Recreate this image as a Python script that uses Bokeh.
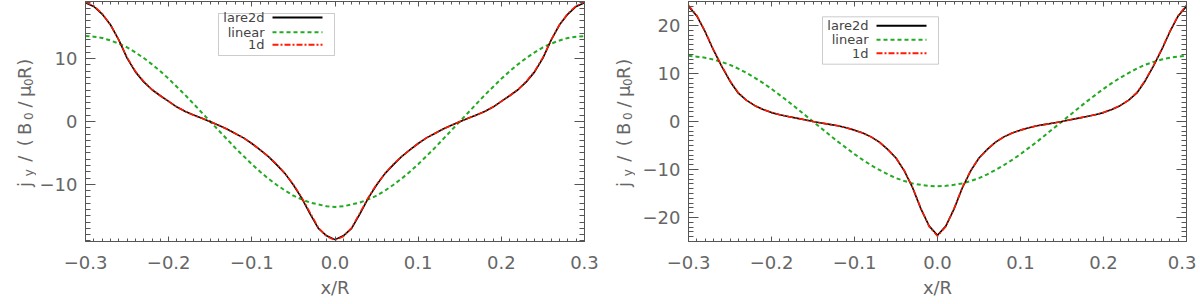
import numpy as np
from bokeh.plotting import figure
from bokeh.models import (Range1d, LinearAxis, SingleIntervalTicker, FixedTicker,
                          CustomJSTickFormatter, CustomLabelingPolicy, Label, BoxAnnotation)
from bokeh.layouts import row
from bokeh.embed import file_html
from bokeh.resources import INLINE

# ---------------- data ----------------
x = [round(-0.30 + 0.01 * i, 2) for i in range(61)]

lare2d_a = [18.9, 18.3, 17.1, 15.4, 13.0, 10.1, 7.9, 6.3, 5.05, 4.1, 3.2, 2.3, 1.6, 1.05, 0.5,
            -0.05, -0.6, -1.2, -1.9, -2.6, -3.5, -4.5, -5.6, -6.9, -8.3, -10.1, -12.2, -14.7,
            -17.0, -18.2, -18.8, -18.2, -17.0, -14.7, -12.2, -10.1, -8.3, -6.9, -5.6, -4.5,
            -3.5, -2.6, -1.9, -1.2, -0.6, -0.05, 0.5, 1.05, 1.6, 2.3, 3.2, 4.1, 5.05, 6.3, 7.9,
            10.1, 13.0, 15.4, 17.1, 18.3, 18.9]
oned_a = [19.0, 18.4, 17.2, 15.4, 13.0, 10.2, 8.0, 6.4, 5.1, 4.1, 3.2, 2.3, 1.6, 1.0, 0.5,
          0.0, -0.6, -1.2, -1.9, -2.6, -3.5, -4.5, -5.6, -6.8, -8.3, -10.0, -12.1, -14.5,
          -16.9, -18.3, -18.9, -18.3, -16.9, -14.5, -12.1, -10.0, -8.3, -6.8, -5.6, -4.5,
          -3.5, -2.6, -1.9, -1.2, -0.6, 0.0, 0.5, 1.0, 1.6, 2.3, 3.2, 4.1, 5.1, 6.4, 8.0,
          10.2, 13.0, 15.4, 17.2, 18.4, 19.0]
linear_a = [13.6, 13.5, 13.3, 12.9, 12.4, 11.8, 11.0, 10.1, 9.1, 8.0, 6.8, 5.5, 4.2, 2.8, 1.4,
            0.0, -1.4, -2.8, -4.2, -5.5, -6.8, -8.0, -9.1, -10.1, -11.0, -11.8, -12.4, -12.9,
            -13.2, -13.5, -13.6, -13.5, -13.2, -12.9, -12.4, -11.8, -11.0, -10.1, -9.1, -8.0,
            -6.8, -5.5, -4.2, -2.8, -1.4, 0.0, 1.4, 2.8, 4.2, 5.5, 6.8, 8.0, 9.1, 10.1, 11.0,
            11.8, 12.4, 12.9, 13.3, 13.5, 13.6]

lare2d_b = [24.0, 22.0, 18.7, 14.9, 11.5, 8.4, 5.9, 4.4, 3.3, 2.5, 1.85, 1.4, 1.05, 0.7, 0.35,
            0.0, -0.3, -0.6, -0.9, -1.3, -1.8, -2.4, -3.2, -4.3, -5.8, -7.6, -10.3, -13.8,
            -18.2, -21.8, -23.7, -21.8, -18.2, -13.8, -10.3, -7.6, -5.8, -4.3, -3.2, -2.4,
            -1.8, -1.3, -0.9, -0.6, -0.3, 0.0, 0.35, 0.7, 1.05, 1.4, 1.85, 2.5, 3.3, 4.4, 5.9,
            8.4, 11.5, 14.9, 18.7, 22.0, 24.0]
oned_b = [24.2, 22.1, 18.8, 15.0, 11.6, 8.5, 6.0, 4.4, 3.3, 2.5, 1.9, 1.4, 1.05, 0.7, 0.35,
          0.0, -0.3, -0.6, -0.9, -1.3, -1.8, -2.4, -3.2, -4.3, -5.8, -7.6, -10.2, -13.7,
          -18.1, -21.9, -23.9, -21.9, -18.1, -13.7, -10.2, -7.6, -5.8, -4.3, -3.2, -2.4,
          -1.8, -1.3, -0.9, -0.6, -0.3, 0.0, 0.35, 0.7, 1.05, 1.4, 1.9, 2.5, 3.3, 4.4, 6.0,
          8.5, 11.6, 15.0, 18.8, 22.1, 24.2]
linear_b = [13.7, 13.5, 13.3, 12.9, 12.4, 11.8, 11.0, 10.1, 9.1, 8.0, 6.8, 5.5, 4.2, 2.8, 1.4,
            0.0, -1.4, -2.8, -4.2, -5.5, -6.8, -8.0, -9.1, -10.1, -11.0, -11.8, -12.4, -12.9,
            -13.2, -13.4, -13.5, -13.4, -13.2, -12.9, -12.4, -11.8, -11.0, -10.1, -9.1, -8.0,
            -6.8, -5.5, -4.2, -2.8, -1.4, 0.0, 1.4, 2.8, 4.2, 5.5, 6.8, 8.0, 9.1, 10.1, 11.0,
            11.8, 12.4, 12.9, 13.3, 13.5, 13.7]

x_ticks = [-0.3, -0.2, -0.1, 0.0, 0.1, 0.2, 0.3]
x_minor = [round(-0.30 + 0.01 * i, 2) for i in range(61)]
legend_names = ["lare2d", "linear", "1d"]
x_label = "x/R"
y_label_parts = [("j", False), ("y", True), ("/", False), ("(", False), ("B", False),
                 ("0", True), ("/", False), ("μ", False), ("0", True), ("R", False), (")", False)]

# ---------------- style ----------------
FONT = "DejaVu Sans"
AX = "#555555"
TXT = "#666666"
GREEN = "#22aa22"
RED = "#ff1a00"
FH = 240
TOP = 1
BOTTOM = 62
TOTAL_H = TOP + FH + BOTTOM

# centres (page pixel rows) of each character in the y label
ylab_centres = [184, 172.3, 158.3, 142.3, 128.3, 115.7, 104, 90.7, 81.7, 72.3, 61.7]


def style_axis(ax, tin, tmin, labels):
    ax.axis_line_color = AX
    ax.major_tick_line_color = AX
    ax.minor_tick_line_color = AX
    ax.major_tick_in = tin
    ax.major_tick_out = 0
    ax.minor_tick_in = tmin
    ax.minor_tick_out = 0
    ax.major_label_text_font = FONT
    ax.major_label_text_color = TXT
    if labels:
        ax.major_label_text_font_size = "18px"
    else:
        ax.major_label_text_font_size = "0px"
        ax.major_label_standoff = 0
        ax.major_label_policy = CustomLabelingPolicy(code="return [];")


def xfmt():
    return CustomJSTickFormatter(code="const t = Math.abs(tick) < 1e-9 ? 0 : tick; return t.toFixed(1).replace('-', '\u2212');")


def yfmt():
    return CustomJSTickFormatter(code="const t = Math.round(tick); return String(t === 0 ? 0 : t).replace('-', '\u2212');")


def label_fig(w, baseline):
    f = figure(width=w, height=TOTAL_H, x_range=Range1d(0, 1), y_range=Range1d(0, 1),
               x_axis_type=None, y_axis_type=None, output_backend="svg",
               toolbar_location=None, min_border=0)
    f.grid.visible = False
    f.outline_line_color = None
    for (ch, sub), c in zip(y_label_parts, ylab_centres):
        f.add_layout(Label(x=baseline + (4 if sub else 0), y=(TOP + FH) - c,
                           x_units="screen", y_units="screen", text=ch,
                           angle=np.pi / 2, text_align="center",
                           text_baseline="alphabetic", text_font=FONT,
                           text_font_size="12px" if sub else "18px",
                           text_color=TXT))
    return f


def panel(lare, oned, lin, yr, fw, lb, rb, leg_rows, leg_box):
    p = figure(frame_width=fw, frame_height=FH,
               x_range=Range1d(-0.3, 0.3), y_range=Range1d(-yr, yr),
               output_backend="svg", toolbar_location=None,
               min_border_left=lb, min_border_right=rb,
               min_border_top=TOP, min_border_bottom=BOTTOM)
    p.grid.visible = False
    p.outline_line_color = None
    p.background_fill_color = "white"

    xb = p.xaxis[0]
    xb.ticker = FixedTicker(ticks=x_ticks, minor_ticks=x_minor)
    xb.formatter = xfmt()
    style_axis(xb, 5, 3, True)
    xb.major_label_standoff = 14
    xb.axis_label = x_label
    xb.axis_label_text_font = FONT
    xb.axis_label_text_font_size = "18px"
    xb.axis_label_text_font_style = "normal"
    xb.axis_label_text_color = TXT
    xb.axis_label_standoff = 5

    yl = p.yaxis[0]
    yl.ticker = SingleIntervalTicker(interval=10, num_minor_ticks=10)
    yl.formatter = yfmt()
    style_axis(yl, 10, 5, True)
    yl.major_label_standoff = 8

    xt = LinearAxis(ticker=FixedTicker(ticks=x_ticks, minor_ticks=x_minor))
    style_axis(xt, 5, 3, False)
    p.add_layout(xt, "above")
    yr_ax = LinearAxis(ticker=SingleIntervalTicker(interval=10, num_minor_ticks=10))
    style_axis(yr_ax, 10, 5, False)
    p.add_layout(yr_ax, "right")

    p.line(x, lin, line_color=GREEN, line_width=2, line_dash="4 3")
    p.line(x, lare, line_color="black", line_width=1.6)
    p.line(x, oned, line_color=RED, line_width=1.6, line_dash="6 2 2 2")

    # legend
    bl, br, bt, bb = leg_box
    p.add_layout(BoxAnnotation(left=bl, right=br, top=FH - bt, bottom=FH - bb,
                               left_units="screen", right_units="screen",
                               top_units="screen", bottom_units="screen",
                               fill_alpha=0.0, line_color=AX, line_width=1))
    styles = [("black", None, 2), (GREEN, "4 3", 2), (RED, "6 2 2 2", 2)]
    for name, ry, (col, dash, lw) in zip(legend_names, leg_rows, styles):
        sy = FH - ry
        p.add_layout(Label(x=bl + 46, y=sy, x_units="screen", y_units="screen",
                           text=name, text_align="right", text_baseline="middle",
                           text_font=FONT, text_font_size="13px", text_color="#444444"))
        x0 = -0.3 + (bl + 54) / fw * 0.6
        x1 = -0.3 + (bl + 104) / fw * 0.6
        yd = -yr + sy / FH * 2 * yr
        kw = dict(line_color=col, line_width=lw)
        if dash:
            kw["line_dash"] = dash
        p.line([x0, x1], [yd, yd], **kw)
    return p


lf1 = label_fig(36, 24)
p1 = panel(lare2d_a, oned_a, linear_a, 19.1, 499, 48, 15,
           [16, 30.7, 43.3], (133, 249, 12, 54))
lf2 = label_fig(36, 24)
p2 = panel(lare2d_b, oned_b, linear_b, 25.0, 498, 53, 10,
           [24.3, 38.3, 51.7], (134, 250, 15.3, 62.7))

layout = row(lf1, p1, lf2, p2, spacing=0)
open("out.html", "w").write(file_html(layout, INLINE))
